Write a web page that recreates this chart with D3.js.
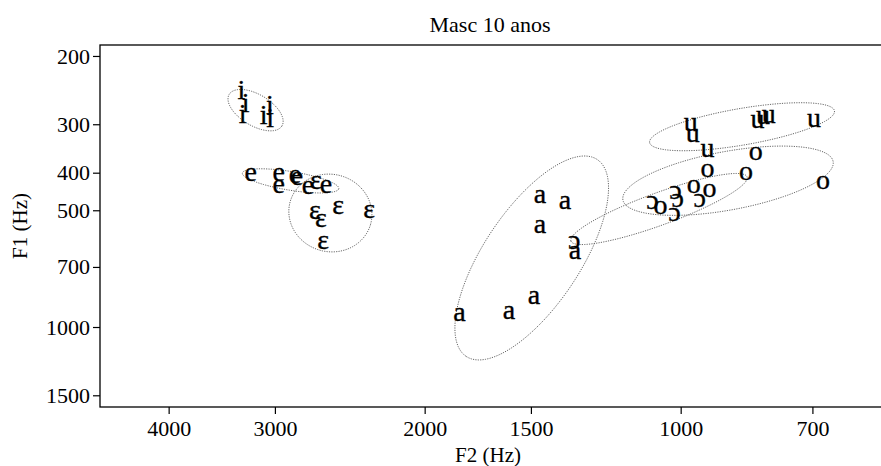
<!DOCTYPE html>
<html>
<head>
<meta charset="utf-8">
<script src="https://cdn.jsdelivr.net/npm/d3@7"></script>
<style>
  body { margin: 0; background: #fff; }
  text { font-family: "Liberation Serif", "Times New Roman", serif; }
</style>
</head>
<body>
<div id="vis"></div>
<script>
// vowel tokens, [F2, F1] in Hz
var vowelI   = [[3285, 249], [3247, 268], [3274, 287], [3042, 272], [3092, 289], [3038, 293]];
var vowelE   = [[3203, 405], [2969, 405], [2969, 435], [2842, 410], [2826, 413], [2743, 438], [2612, 435]];
var vowelEps = [[2692, 508], [2648, 533], [2528, 493], [2324, 505], [2633, 604], [2685, 423]];
var vowelA   = [[1464, 462], [1368, 479], [1464, 552], [1331, 644], [1488, 842], [1592, 920], [1820, 931]];
var vowelOpO = [[1334, 604], [1079, 479], [1014, 449], [1008, 473], [1017, 514], [950, 473]];
var vowelO   = [[1056, 493], [965, 435], [925, 446], [930, 396], [838, 401], [816, 356], [680, 423]];
var vowelU   = [[973, 301], [968, 320], [930, 350], [812, 296], [800, 289], [788, 287], [697, 293]];

var symbols = ["i", "e", "ɛ", "a", "ɔ", "o", "u"];
var groups = [vowelI, vowelE, vowelEps, vowelA, vowelOpO, vowelO, vowelU];

var f2Ticks = [4000, 3000, 2000, 1500, 1000, 700];
var f1Ticks = [200, 300, 400, 500, 700, 1000, 1500];

var title = "Masc 10 anos";

var width = 881, height = 466;
var margin = {top: 45, right: -6, bottom: 59, left: 100};

var svg = d3.select("#vis").append("svg")
            .attr("width", width)
            .attr("height", height);

//log scales, both reversed like a vowel chart
var x = d3.scaleLog().domain([4817, 572]).range([margin.left, width - margin.right]);
var y = d3.scaleLog().domain([187.4, 1608]).range([margin.top, height - margin.bottom]);

//plot box
svg.append("rect")
   .attr("x", margin.left)
   .attr("y", margin.top)
   .attr("width", width - margin.right - margin.left)
   .attr("height", height - margin.bottom - margin.top)
   .attr("fill", "none")
   .attr("stroke", "black")
   .attr("stroke-width", 1.3);

//axes
var xAxis = svg.append("g")
   .attr("transform", "translate(0," + (height - margin.bottom) + ")")
   .call(d3.axisBottom(x).tickValues(f2Ticks).tickFormat(d3.format("d")).tickSize(7).tickPadding(6));
var yAxis = svg.append("g")
   .attr("transform", "translate(" + margin.left + ",0)")
   .call(d3.axisLeft(y).tickValues(f1Ticks).tickFormat(d3.format("d")).tickSize(7).tickPadding(3));
[xAxis, yAxis].forEach(function(a){
  a.select(".domain").remove();
  a.selectAll("line").attr("stroke", "black").attr("stroke-width", 1.2);
  a.selectAll("text").attr("font-family", "Liberation Serif").attr("font-size", "22px").attr("fill", "black");
});

//titles
svg.append("text")
   .attr("x", 490).attr("y", 32)
   .attr("text-anchor", "middle")
   .attr("font-size", "22px")
   .text(title);
svg.append("text")
   .attr("x", 488).attr("y", 462)
   .attr("text-anchor", "middle")
   .attr("font-size", "21px")
   .text("F2 (Hz)");
svg.append("text")
   .attr("transform", "translate(27," + ((margin.top + height - margin.bottom) / 2) + ") rotate(-90)")
   .attr("text-anchor", "middle")
   .attr("font-size", "21px")
   .text("F1 (Hz)");

//2-sd covariance ellipse, worked out in screen (log) space
function ellipsePath(pts) {
  var px = pts.map(function(d){ return [x(d[0]), y(d[1])]; });
  var n = px.length;
  var mx = d3.mean(px, function(d){ return d[0]; });
  var my = d3.mean(px, function(d){ return d[1]; });
  var sxx = 0, syy = 0, sxy = 0;
  px.forEach(function(d){
    sxx += (d[0] - mx) * (d[0] - mx);
    syy += (d[1] - my) * (d[1] - my);
    sxy += (d[0] - mx) * (d[1] - my);
  });
  sxx /= n - 1; syy /= n - 1; sxy /= n - 1;
  var mid = (sxx + syy) / 2;
  var disc = Math.sqrt(mid * mid - (sxx * syy - sxy * sxy));
  var l1 = mid + disc, l2 = mid - disc;
  var ang = Math.atan2(l1 - sxx, sxy);
  if (Math.abs(sxy) < 1e-9) ang = sxx >= syy ? 0 : Math.PI / 2;
  var a = 2 * Math.sqrt(l1), b = 2 * Math.sqrt(Math.max(l2, 0));
  var ring = d3.range(0, 101).map(function(k){
    var t = k / 100 * 2 * Math.PI;
    var ex = a * Math.cos(t), ey = b * Math.sin(t);
    return [mx + ex * Math.cos(ang) - ey * Math.sin(ang),
            my + ex * Math.sin(ang) + ey * Math.cos(ang)];
  });
  return d3.line()(ring);
}

svg.append("g").selectAll("path")
   .data(groups)
   .enter()
   .append("path")
   .attr("d", ellipsePath)
   .attr("fill", "none")
   .attr("stroke", "#555")
   .attr("stroke-width", 0.9)
   .attr("stroke-dasharray", "1.2,1.2");

//vowel symbols
var tokens = [];
groups.forEach(function(g, i){
  g.forEach(function(d){ tokens.push({sym: symbols[i], f2: d[0], f1: d[1]}); });
});
svg.append("g").selectAll("text")
   .data(tokens)
   .enter()
   .append("text")
   .attr("x", function(d){ return x(d.f2); })
   .attr("y", function(d){ return y(d.f1); })
   .attr("dy", "0.23em")
   .attr("text-anchor", "middle")
   .attr("font-size", "28px")
   .attr("stroke", "black")
   .attr("stroke-width", 0.35)
   .text(function(d){ return d.sym; });
</script>
</body>
</html>
